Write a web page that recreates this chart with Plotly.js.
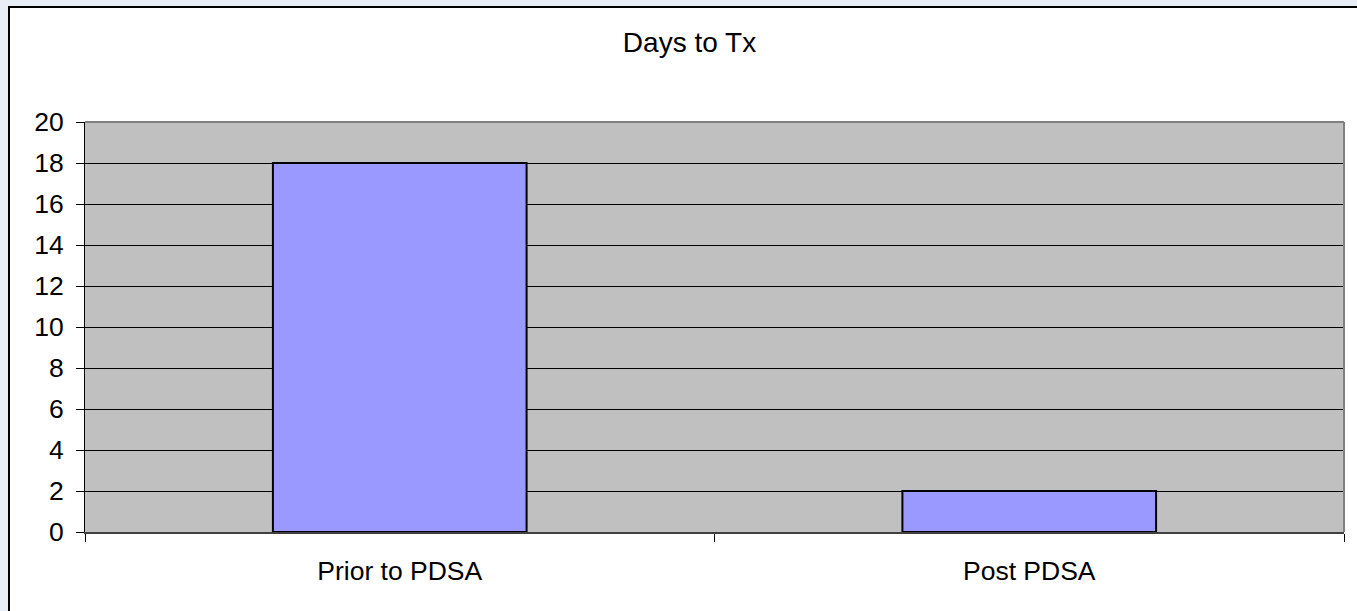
<!DOCTYPE html>
<html>
<head>
<meta charset="utf-8">
<script src="https://cdn.plot.ly/plotly-3.0.1.min.js"></script>
<style>
  html, body { margin: 0; padding: 0; width: 1357px; height: 611px; overflow: hidden; background: #e8edf6; }
  #frame { position: absolute; left: 8px; top: 6px; width: 1380px; height: 640px; background: #ffffff; border: 2px solid #000; }
  #chart { position: absolute; left: 0; top: 0; width: 1357px; height: 611px; }
</style>
</head>
<body>
<div id="frame"></div>
<div id="chart"></div>
<script>
const categories = ["Prior to PDSA", "Post PDSA"];
const daysToTx = [18, 2];
const chartTitle = "Days to Tx";

const trace = {
  type: "bar",
  x: categories,
  y: daysToTx,
  width: 0.403,
  marker: { color: "#9999FF", line: { color: "#000000", width: 2 } },
  hoverinfo: "x+y"
};

const font = { family: "Liberation Sans, Arial, sans-serif", size: 26.5, color: "#000" };
const titleFont = { family: "Liberation Sans, Arial, sans-serif", size: 28, color: "#000" };

const layout = {
  width: 1357,
  height: 611,
  margin: { l: 85, r: 13, t: 122, b: 79 },
  paper_bgcolor: "rgba(0,0,0,0)",
  plot_bgcolor: "#C0C0C0",
  font: font,
  showlegend: false,
  title: { text: chartTitle, font: titleFont, xref: "container", x: 689.5/1357, xanchor: "center", yref: "container", y: 1 - 42/611, yanchor: "middle" },
  xaxis: {
    type: "category",
    tickson: "boundaries",
    ticks: "outside",
    ticklen: 8,
    tickcolor: "#000",
    tickwidth: 1,
    showline: true,
    linecolor: "#404040",
    linewidth: 2,
    showgrid: false,
    zeroline: false,
    tickfont: font,
    ticklabelstandoff: 14
  },
  yaxis: {
    range: [0, 20],
    dtick: 2,
    tick0: 0,
    ticks: "outside",
    ticklen: 8,
    tickcolor: "#000",
    tickwidth: 1,
    showline: true,
    linecolor: "#000",
    linewidth: 1,
    showgrid: true,
    gridcolor: "#000",
    gridwidth: 1,
    zeroline: false,
    tickfont: font,
    ticklabelstandoff: 7
  },
  shapes: [
    { type: "line", xref: "paper", yref: "paper", x0: 0, x1: 1, y0: 1, y1: 1, line: { color: "#808080", width: 2 } },
    { type: "line", xref: "paper", yref: "paper", x0: 1, x1: 1, y0: 0, y1: 1, line: { color: "#808080", width: 2 } }
  ]
};

Plotly.newPlot("chart", [trace], layout, { displayModeBar: false, staticPlot: true });
</script>
</body>
</html>
